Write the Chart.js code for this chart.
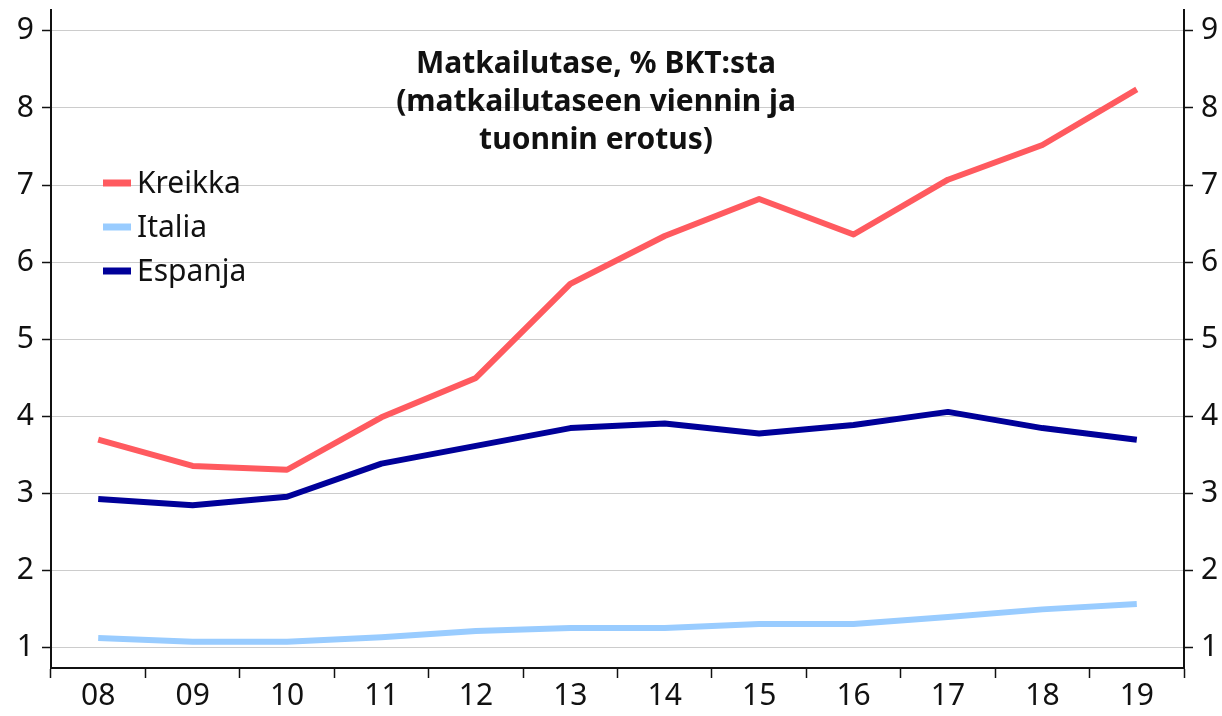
<!DOCTYPE html>
<html>
<head>
<meta charset="utf-8">
<script src="https://cdn.jsdelivr.net/npm/chart.js@4"></script>
<style>
html,body{margin:0;padding:0;background:#fff;}
#wrap{width:1222px;height:716px;position:relative;}
</style>
</head>
<body>
<div id="wrap"><canvas id="c" width="1222" height="716"></canvas></div>
<script>
const categories = ['08','09','10','11','12','13','14','15','16','17','18','19'];
const kreikka = [3.70, 3.36, 3.31, 3.99, 4.50, 5.72, 6.34, 6.82, 6.36, 7.07, 7.52, 8.24];
const italia  = [1.13, 1.08, 1.08, 1.14, 1.22, 1.26, 1.26, 1.31, 1.31, 1.40, 1.50, 1.57];
const espanja = [2.93, 2.85, 2.96, 3.39, 3.62, 3.85, 3.91, 3.78, 3.89, 4.06, 3.85, 3.70];
const yTicks = [1, 2, 3, 4, 5, 6, 7, 8, 9];
const titleLines = ['Matkailutase, % BKT:sta', '(matkailutaseen viennin ja', 'tuonnin erotus)'];
const seriesNames = ['Kreikka', 'Italia', 'Espanja'];
const colors = ['#FF5A5F', '#99CCFF', '#000099'];

const FONT = '"Noto Sans", "Open Sans", sans-serif';

const overlay = {
  id: 'overlay',
  afterDraw(chart) {
    const ctx = chart.ctx;
    ctx.save();
    ctx.fillStyle = '#111';
    ctx.font = 'bold 30px ' + FONT;
    ctx.textAlign = 'center';
    ctx.textBaseline = 'middle';
    titleLines.forEach((t, i) => ctx.fillText(t, 596, 64 + i * 38));
    ctx.textAlign = 'left';
    ctx.font = '30px ' + FONT;
    chart.data.datasets.forEach((ds, i) => {
      const y = 183 + i * 44;
      ctx.strokeStyle = ds.borderColor;
      ctx.lineWidth = 7;
      ctx.beginPath();
      ctx.moveTo(103, y);
      ctx.lineTo(131, y);
      ctx.stroke();
      ctx.fillStyle = '#111';
      ctx.fillText(ds.label, 137, y + 1);
    });
    ctx.restore();
  }
};

const mkY = (pos, main) => ({
  type: 'linear',
  position: pos,
  min: 0.74,
  max: 9.27,
  afterBuildTicks: (ax) => { ax.ticks = yTicks.map(v => ({ value: v })); },
  afterFit: (ax) => {
    ax.width = pos === 'left' ? 51 : 38;
    ax.paddingTop = 0; ax.paddingBottom = 0;
  },
  border: { display: true, color: '#111', width: 2 },
  grid: {
    drawOnChartArea: main,
    color: '#cccccc',
    lineWidth: 1,
    tickColor: '#111',
    tickLength: 9,
    tickWidth: 1.5
  },
  ticks: {
    color: '#111',
    font: { family: FONT, size: 30 },
    padding: 8
  }
});

new Chart(document.getElementById('c'), {
  type: 'line',
  data: {
    labels: categories,
    datasets: [
      { label: seriesNames[0], data: kreikka, borderColor: colors[0], yAxisID: 'y' },
      { label: seriesNames[1], data: italia, borderColor: colors[1], yAxisID: 'y' },
      { label: seriesNames[2], data: espanja, borderColor: colors[2], yAxisID: 'y' }
    ]
  },
  options: {
    responsive: false,
    animation: false,
    devicePixelRatio: 1,
    layout: { padding: { top: 10, left: 0, right: 0, bottom: 0 } },
    elements: {
      line: { borderWidth: 6, tension: 0, borderCapStyle: 'butt', borderJoinStyle: 'round' },
      point: { radius: 0, hoverRadius: 0 }
    },
    plugins: {
      legend: { display: false },
      title: { display: false },
      tooltip: { enabled: false }
    },
    scales: {
      x: {
        offset: true,
        afterFit: (ax) => { ax.height = 48; ax.paddingLeft = 0; ax.paddingRight = 0; },
        border: { display: true, color: '#111', width: 2 },
        grid: {
          offset: true,
          drawOnChartArea: false,
          tickColor: '#111',
          tickLength: 10,
          tickWidth: 1.5
        },
        ticks: {
          color: '#111',
          font: { family: FONT, size: 30 },
          padding: 0,
          maxRotation: 0
        }
      },
      y: mkY('left', true),
      y2: mkY('right', false)
    }
  },
  plugins: [overlay]
});
</script>
</body>
</html>
